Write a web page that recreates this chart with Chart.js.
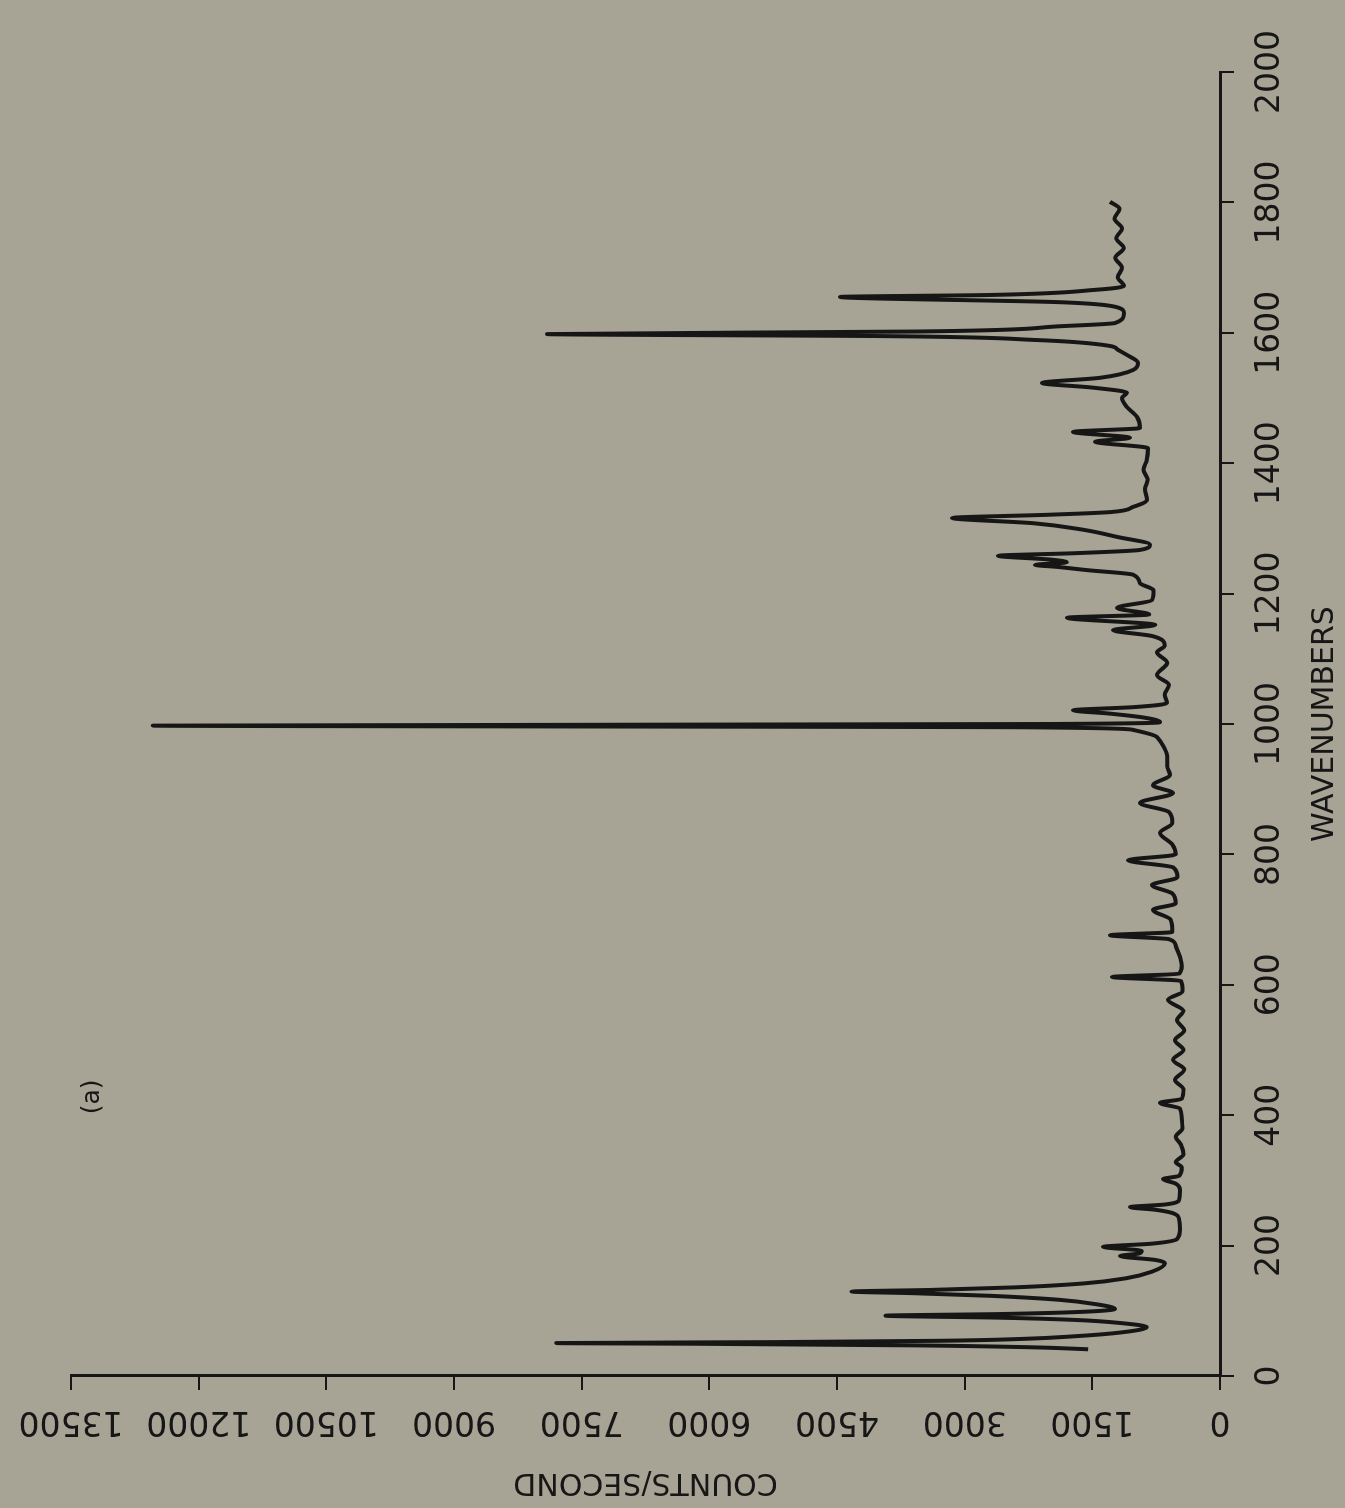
<!DOCTYPE html>
<html>
<head>
<meta charset="utf-8">
<script src="https://cdn.jsdelivr.net/npm/chart.js@4"></script>
<style>
  html, body { margin: 0; padding: 0; background: #a7a395; overflow: hidden; }
  #wrap {
    position: absolute; left: 0; top: 0; width: 1508px; height: 1345px;
    transform-origin: 0 0; transform: translate(0, 1508px) rotate(-90deg);
  }
</style>
</head>
<body>
<div id="wrap"><canvas id="spectrum" width="1508" height="1345"></canvas></div>
<script>
// spectrum (wavenumber, counts/second)
const wavenumbers = [41, 44, 47, 49.5, 50.5, 52, 54, 57, 61, 67, 75, 81, 86, 89.5, 92.5, 95, 98, 103, 110, 117,
  123, 127, 129.5, 132, 136, 142, 150, 160, 173, 178, 184, 188, 192, 198, 203, 210, 225, 240, 250, 255,
  259, 263, 270, 285, 295, 302, 307, 320, 328, 340, 355, 367, 380, 395, 410, 419, 425, 440, 454, 470,
  485, 500, 515, 530, 546, 560, 577, 590, 606, 612, 617, 630, 643, 660, 670, 676, 681, 700, 715, 725,
  740, 753, 765, 780, 791, 800, 815, 833, 848, 865, 879, 894, 906, 922, 935, 950, 965, 980, 991, 995,
  997.5, 1000, 1003, 1010, 1016, 1021, 1026, 1032, 1045, 1060, 1075, 1094, 1110, 1120, 1135, 1144, 1152, 1163, 1168, 1178,
  1190, 1205, 1216, 1229, 1236, 1241, 1244, 1248, 1252, 1258, 1262, 1267, 1275, 1287, 1298, 1308, 1316, 1321, 1325, 1333,
  1344, 1360, 1375, 1390, 1405, 1423, 1433, 1439, 1448, 1454, 1471, 1486, 1500, 1508, 1516, 1523, 1531, 1543, 1554, 1566,
  1574, 1580, 1589, 1595, 1598, 1602, 1610, 1615, 1630, 1640, 1647, 1655, 1658, 1666, 1672, 1685, 1700, 1715, 1730, 1745,
  1760, 1775, 1790, 1801];
const counts = [1550, 2200, 3600, 6200, 7800, 5200, 3300, 2300, 1700, 1150, 860, 1150, 1700, 2600, 3930, 2600, 1700, 1234, 1450, 1900,
  2700, 3600, 4330, 3400, 2400, 1600, 1100, 800, 646, 760, 1175, 950, 920, 1375, 800, 505, 470, 480, 560, 760,
  1058, 650, 480, 470, 520, 670, 480, 450, 520, 430, 460, 520, 440, 450, 470, 705, 450, 430, 529, 420,
  552, 430, 529, 420, 505, 430, 611, 440, 460, 1269, 480, 450, 470, 520, 600, 1292, 560, 580, 787, 520,
  560, 800, 500, 550, 1081, 520, 560, 705, 560, 600, 940, 552, 787, 588, 620, 620, 660, 740, 1022, 2300,
  12540, 2000, 705, 900, 1300, 1727, 1000, 623, 650, 600, 740, 620, 740, 650, 800, 1257, 760, 1798, 830, 1210,
  800, 780, 940, 1022, 1560, 1915, 2174, 1800, 1974, 2608, 1700, 940, 822, 1210, 1610, 2197, 3149, 2000, 1292, 1022,
  858, 880, 850, 900, 860, 846, 1469, 1058, 1727, 940, 975, 1093, 1152, 1093, 1500, 2092, 1410, 1022, 964, 1093,
  1200, 1300, 2174, 4000, 7908, 3537, 1892, 1234, 1128, 1234, 1892, 4465, 2714, 1457, 1128, 1200, 1150, 1230, 1130, 1220,
  1150, 1240, 1180, 1292];

const xTitle = 'WAVENUMBERS';
const yTitle = 'COUNTS/SECOND';
const panelLabel = '(a)';
const panelPos = [428, 13250];

const ink = '#161616';
const fam = '"DejaVu Sans", sans-serif';

const panelPlugin = {
  id: 'panel',
  afterDraw(chart) {
    const ctx = chart.ctx;
    ctx.save();
    ctx.fillStyle = ink;
    ctx.font = '25px ' + fam;
    ctx.textAlign = 'center';
    ctx.textBaseline = 'middle';
    ctx.fillText(panelLabel, chart.scales.x.getPixelForValue(panelPos[0]), chart.scales.y.getPixelForValue(panelPos[1]));
    ctx.restore();
  }
};

const points = wavenumbers.map((w, i) => ({x: w, y: counts[i]}));

new Chart(document.getElementById('spectrum'), {
  type: 'line',
  data: { datasets: [{ data: points, borderColor: ink, borderWidth: 4, pointRadius: 0,
    cubicInterpolationMode: 'monotone', borderJoinStyle: 'round', fill: false }] },
  options: {
    responsive: false, animation: false, devicePixelRatio: 1,
    layout: { padding: { top: 71, right: 72, left: 0, bottom: 0 } },
    plugins: { legend: { display: false }, tooltip: { enabled: false } },
    scales: {
      x: {
        type: 'linear', min: 0, max: 2000,
        afterFit: s => { s.height = 125; },
        ticks: { stepSize: 200, color: ink, font: { family: fam, size: 33 }, padding: 17, maxRotation: 0, autoSkip: false,
          callback: v => String(v) },
        grid: { drawOnChartArea: false, tickLength: 14, color: ink, lineWidth: 2 },
        border: { display: true, color: ink, width: 3 },
        title: { display: true, text: xTitle, color: ink, font: { family: fam, size: 30 }, padding: { bottom: 2, top: 0 } }
      },
      y: {
        type: 'linear', min: 0, max: 13500,
        afterFit: s => { s.width = 132; },
        ticks: { stepSize: 1500, color: ink, font: { family: fam, size: 33 }, minRotation: 90, maxRotation: 90,
          crossAlign: 'center', padding: -22, autoSkip: false, callback: v => String(v) },
        grid: { drawOnChartArea: false, tickLength: 14, color: ink, lineWidth: 2 },
        border: { display: true, color: ink, width: 3 },
        title: { display: true, text: yTitle, color: ink, font: { family: fam, size: 30 }, padding: { top: 8, bottom: 0 } }
      }
    }
  },
  plugins: [panelPlugin]
});
</script>
</body>
</html>
